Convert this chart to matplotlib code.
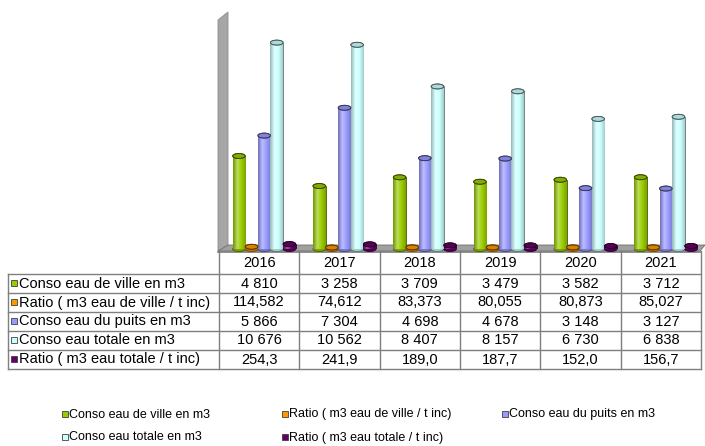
import numpy as np
import matplotlib
matplotlib.use("Agg")
import matplotlib.pyplot as plt
from matplotlib.patches import Rectangle, Ellipse, Polygon
from matplotlib.colors import LinearSegmentedColormap, to_rgb

plt.rcParams['font.family'] = ['Liberation Sans', 'DejaVu Sans']

# ---------------- data ----------------
years = ["2016", "2017", "2018", "2019", "2020", "2021"]
ville = [4810, 3258, 3709, 3479, 3582, 3712]
ratio_ville = [114.582, 74.612, 83.373, 80.055, 80.873, 85.027]
puits = [5866, 7304, 4698, 4678, 3148, 3127]
totale = [10676, 10562, 8407, 8157, 6730, 6838]
ratio_totale = [254.3, 241.9, 189.0, 187.7, 152.0, 156.7]

series_labels = ["Conso eau de ville en m3",
                 "Ratio ( m3 eau de ville / t inc)",
                 "Conso eau du puits en m3",
                 "Conso eau totale en m3",
                 "Ratio ( m3 eau totale / t inc)"]
series_values = [ville, ratio_ville, puits, totale, ratio_totale]
series_colors = ["#99CC00", "#FF9900", "#9999FF", "#CCFFFF", "#660066"]
series_fmt = ["int", "d3", "int", "int", "d1"]


def fmt(v, kind):
    if kind == "int":
        return f"{v:,.0f}".replace(",", " ")
    if kind == "d3":
        return f"{v:.3f}".replace(".", ",")
    return f"{v:.1f}".replace(".", ",")


W, H = 705, 446
fig = plt.figure(figsize=(W / 100, H / 100), dpi=100)
fig.patch.set_facecolor("white")

# background / overlay axes in pixel coordinates
bg = fig.add_axes([0, 0, 1, 1], zorder=0)
bg.set_xlim(0, W)
bg.set_ylim(H, 0)
bg.axis("off")

# wall and floor
bg.add_patch(Polygon([(218, 20), (228, 12), (228, 246), (218, 251)],
                     closed=True, facecolor="#A6A6A6", edgecolor="#8C8C8C", lw=0.6))
bg.add_patch(Polygon([(218, 251), (228, 245), (705, 245), (700, 251)],
                     closed=True, facecolor="#A0A0A0", edgecolor="#6E6E6E", lw=0.6))
bg.plot([218, 700], [252, 252], color="#7A7A7A", lw=1.2)

# ---------------- bars ----------------
ax_left, ax_right = 224, 706
zero_y, top_y = 249, 17
ymax = 12000
ax = fig.add_axes([ax_left / W, (H - zero_y) / H, (ax_right - ax_left) / W,
                   (zero_y - top_y) / H], zorder=2)
ax.set_xlim(-0.5, len(years) - 0.5)
ax.set_ylim(0, ymax)
ax.axis("off")
ax.patch.set_alpha(0)

x = np.arange(len(years))
bw = 0.157
ell_h = 5.0 / (zero_y - top_y) * ymax


def shade(c, f):
    r, g, b = to_rgb(c)
    return (r * f, g * f, b * f)


def tint(c, f):
    r, g, b = to_rgb(c)
    return (r + (1 - r) * f, g + (1 - g) * f, b + (1 - b) * f)


grad = np.linspace(0, 1, 64).reshape(1, -1)
for i, (vals, col) in enumerate(zip(series_values, series_colors)):
    cmap = LinearSegmentedColormap.from_list(
        f"c{i}", [shade(col, 0.72), tint(col, 0.35), col, shade(col, 0.8)])
    edge = shade(col, 0.45)
    xs = x + (i - 2) * bw
    bars = ax.bar(xs, vals, width=bw, color=col, edgecolor=edge, linewidth=0.6,
                  zorder=3)
    for b in bars:
        bx, bwid, bh = b.get_x(), b.get_width(), b.get_height()
        cx = bx + bwid / 2
        # bottom rounding
        ax.add_patch(Ellipse((cx, 0), bwid, ell_h, facecolor=shade(col, 0.8),
                             edgecolor=edge, lw=0.6, zorder=2.5, clip_on=False))
        im = ax.imshow(grad, cmap=cmap, aspect="auto",
                       extent=(bx, bx + bwid, 0, bh), zorder=3.2,
                       interpolation="bilinear")
        im.set_clip_path(b)
        ax.add_patch(Ellipse((cx, bh), bwid, ell_h, facecolor=shade(col, 0.85),
                             edgecolor=edge, lw=0.6, zorder=3.5, clip_on=False))
        ax.add_patch(Ellipse((cx, bh), bwid, ell_h, facecolor="none",
                             edgecolor=shade(col, 0.35), lw=0.6, zorder=3.6,
                             clip_on=False))
ax.set_xlim(-0.5, len(years) - 0.5)
ax.set_ylim(0, ymax)

# ---------------- data table ----------------
col_edges = np.linspace(219, 701, len(years) + 1)
row_edges = [273.5, 292.5, 311.5, 330.5, 349.5, 368.5]
line_col = "#7F7F7F"
for yl in row_edges:
    bg.plot([8, 701], [yl, yl], color=line_col, lw=1.0, zorder=1)
bg.plot([8, 8], [row_edges[0], row_edges[-1]], color=line_col, lw=1.0, zorder=1)
for xe in col_edges:
    bg.plot([xe, xe], [251, row_edges[-1]], color=line_col, lw=1.0, zorder=1)

fs_table = 10.5
for j, yr in enumerate(years):
    cx = (col_edges[j] + col_edges[j + 1]) / 2
    bg.text(cx, (251 + row_edges[0]) / 2 + 1, yr, ha="center", va="center",
            fontsize=fs_table, color="black")

for r, (lab, vals, col, kind) in enumerate(zip(series_labels, series_values,
                                                series_colors, series_fmt)):
    cy = (row_edges[r] + row_edges[r + 1]) / 2
    bg.add_patch(Rectangle((10.5, cy - 3), 6, 6, facecolor=col,
                           edgecolor="#404040", lw=0.6, zorder=2))
    bg.text(19, cy + 0.5, lab, ha="left", va="center", fontsize=fs_table,
            color="black")
    for j, v in enumerate(vals):
        cx = (col_edges[j] + col_edges[j + 1]) / 2
        bg.text(cx, cy + 0.5, fmt(v, kind), ha="center", va="center",
                fontsize=fs_table, color="black")

# ---------------- legend ----------------
leg_pos = [(62, 414), (282, 414), (502, 414), (62, 437), (282, 437)]
for (lx, ly), lab, col in zip(leg_pos, series_labels, series_colors):
    bg.add_patch(Rectangle((lx, ly - 3), 5.5, 5.5, facecolor=col,
                           edgecolor="#404040", lw=0.6, zorder=2))
    bg.text(lx + 7, ly + 0.5, lab, ha="left", va="center", fontsize=9,
            color="black")

fig.savefig("out.png", dpi=100)
